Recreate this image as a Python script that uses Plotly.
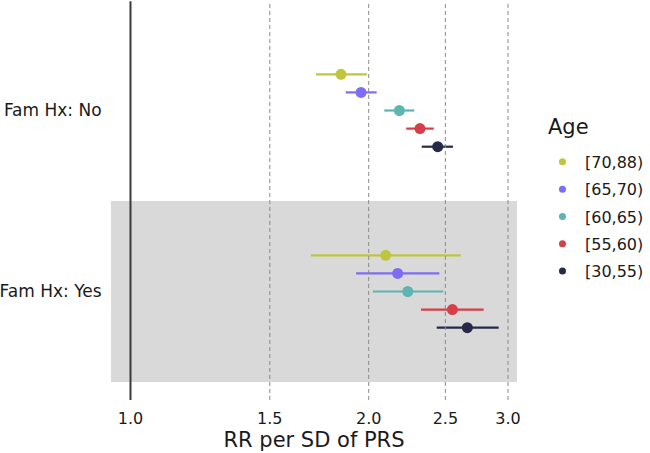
import plotly.graph_objects as go

# ---- data ----
age_groups = ["[70,88)", "[65,70)", "[60,65)", "[55,60)", "[30,55)"]
colors = ["#bfc63d", "#7d6cf6", "#5db4b1", "#d53f47", "#262a47"]

famhx_labels = ["Fam Hx: No", "Fam Hx: Yes"]

rr_no = [1.845, 1.956, 2.187, 2.322, 2.445]
lo_no = [1.716, 1.871, 2.093, 2.231, 2.334]
hi_no = [1.990, 2.047, 2.284, 2.417, 2.556]

rr_yes = [2.101, 2.176, 2.241, 2.552, 2.665]
lo_yes = [1.691, 1.928, 2.024, 2.329, 2.438]
hi_yes = [2.614, 2.457, 2.485, 2.795, 2.920]

x_ticks = [1.0, 1.5, 2.0, 2.5, 3.0]
x_tick_text = ["1.0", "1.5", "2.0", "2.5", "3.0"]

# group centres (No on top) and offsets within group
group_pos = {"Fam Hx: No": 1.0, "Fam Hx: Yes": 0.0}
offsets = [0.2, 0.1, 0.0, -0.1, -0.2]

FONT = "DejaVu Sans"
fig = go.Figure()

for i, age in enumerate(age_groups):
    xs = [rr_no[i], rr_yes[i]]
    los = [lo_no[i], lo_yes[i]]
    his = [hi_no[i], hi_yes[i]]
    ys = [group_pos["Fam Hx: No"] + offsets[i], group_pos["Fam Hx: Yes"] + offsets[i]]
    fig.add_trace(go.Scatter(
        x=xs, y=ys, mode="markers",
        marker=dict(color=colors[i], size=11),
        error_x=dict(type="data", symmetric=False,
                     array=[h - x for h, x in zip(his, xs)],
                     arrayminus=[x - l for x, l in zip(xs, los)],
                     color=colors[i], thickness=2.2, width=0),
        showlegend=False, name=age,
    ))
    # legend entry
    fig.add_trace(go.Scatter(
        x=[None], y=[None], mode="markers",
        marker=dict(color=colors[i], size=7),
        name=age, showlegend=True, legendgroup=age,
    ))

shapes = [
    dict(type="rect", xref="paper", yref="y", x0=0, x1=1, y0=-0.5, y1=0.5,
         fillcolor="#d9d9d9", line=dict(width=0), layer="below"),
]
for v in x_ticks:
    if v == 1.0:
        shapes.append(dict(type="line", xref="x", yref="paper", x0=v, x1=v,
                           y0=-0.047, y1=0.997, line=dict(color="#3a3a3a", width=2),
                           layer="above"))
    else:
        shapes.append(dict(type="line", xref="x", yref="paper", x0=v, x1=v,
                           y0=-0.047, y1=0.997,
                           line=dict(color="#8a8a8a", width=1, dash="4px,3px"),
                           layer="above"))

fig.update_layout(
    width=650, height=453,
    margin=dict(l=111, r=133, t=0, b=71, autoexpand=False),
    paper_bgcolor="white", plot_bgcolor="white",
    font=dict(family=FONT, color="#1a1a1a", size=16),
    shapes=shapes,
    xaxis=dict(type="log", range=[-0.02465, 0.4885],
               tickvals=x_ticks, ticktext=x_tick_text,
               showgrid=False, zeroline=False, showline=False,
               ticks="outside", ticklen=22, tickcolor="rgba(0,0,0,0)",
               tickfont=dict(size=16, family=FONT),
               title=dict(text="RR per SD of PRS", font=dict(size=21, family=FONT),
                          standoff=3)),
    yaxis=dict(range=[-0.5, 1.6105],
               tickvals=[group_pos[l] for l in famhx_labels], ticktext=famhx_labels,
               showgrid=False, zeroline=False, showline=False,
               ticks="outside", ticklen=5, tickcolor="rgba(0,0,0,0)",
               tickfont=dict(size=17, family=FONT)),
    legend=dict(font=dict(size=16, family=FONT),
                x=1.0566, xanchor="left", y=0.6205, yanchor="top",
                bgcolor="rgba(0,0,0,0)", tracegroupgap=3.5, itemwidth=35),
    annotations=[dict(text="Age", xref="paper", yref="paper", x=1.0715, y=0.6675,
                      xanchor="left", yanchor="middle", showarrow=False,
                      font=dict(size=21, family=FONT))],
)

fig.write_html("out.html", config={"displayModeBar": False},
               post_script="document.body.style.margin='0';")
